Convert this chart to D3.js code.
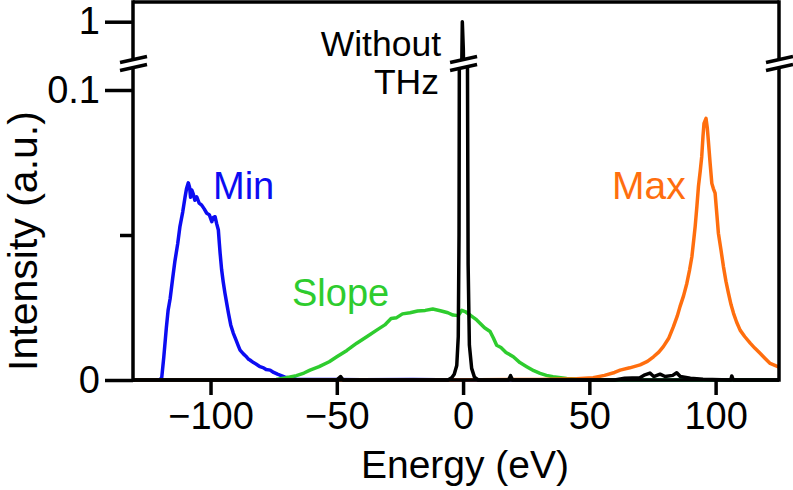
<!DOCTYPE html>
<html>
<head>
<meta charset="utf-8">
<script src="https://cdn.jsdelivr.net/npm/d3@7/dist/d3.min.js"></script>
<style>
  html, body { margin: 0; padding: 0; background: #fff; }
  svg text { font-family: "Liberation Sans", Arial, sans-serif; }
</style>
</head>
<body>
<svg id="chart" width="793" height="490"></svg>
<script>
// ---------- data (energy eV, intensity a.u.) ----------
const xTicks = [-100, -50, 0, 50, 100];
const yTicksLow = [0, 0.1];
const yMinorLow = [0.05];
const yTicksHigh = [1];

const minSeries = [
  [-130.7,0],[-125,0],[-120,0],[-119.3,0.001],[-118.5,0.008],[-117.5,0.018],[-116.8,0.024],[-116,0.028],
  [-115,0.035],[-114.1,0.041],[-113,0.047],[-112.1,0.053],[-111,0.058],[-110.1,0.063],[-109.5,0.066],
  [-108.8,0.068],[-108.3,0.0665],[-107.9,0.063],[-107.4,0.0655],[-106.8,0.064],[-106.2,0.062],
  [-105.5,0.0632],[-104.5,0.061],[-103.5,0.0603],[-102.5,0.059],[-101.5,0.0575],[-100.5,0.057],
  [-99.5,0.0546],[-99,0.056],[-98.2,0.0563],[-97.6,0.054],[-96.9,0.0517],[-96.5,0.047],[-96.2,0.0437],
  [-95.6,0.038],[-95,0.034],[-94.3,0.030],[-93.5,0.026],[-92.9,0.023],[-92,0.019],[-91,0.0162],
  [-90,0.014],[-89,0.0118],[-88.3,0.0103],[-87,0.009],[-86,0.0082],[-85,0.0072],[-84.4,0.0069],
  [-83,0.006],[-82,0.0055],[-80.4,0.0046],[-79,0.0042],[-78,0.0036],[-76.4,0.0034],[-75,0.0026],
  [-73.5,0.002],[-72.5,0.0017],[-70.5,0.001],[-68.5,0.0007],[-66,0.0003],[-60,0.0002],[-50,0.0002],
  [-40,0.0001],[-20,0.0002],[0,0],[125.1,0]
];
const slopeSeries = [
  [-130.7,0],[-80,0],[-74,0.0002],[-70,0.0008],[-66,0.0015],[-63,0.0024],[-60.6,0.0034],[-57,0.0046],
  [-53,0.0063],[-50,0.008],[-46,0.0102],[-42.1,0.0127],[-38,0.015],[-34.2,0.0172],[-31,0.019],
  [-28.5,0.0212],[-26.3,0.0215],[-24,0.0228],[-21,0.0232],[-18,0.0238],[-15,0.024],[-12,0.0245],
  [-9,0.0239],[-6,0.0232],[-4,0.0224],[-2,0.0222],[-0.5,0.024],[0.8,0.0236],[2.8,0.0224],[5.4,0.0207],
  [6.7,0.0196],[8.5,0.018],[10.7,0.0167],[12,0.0145],[13.3,0.012],[15,0.0112],[17,0.0095],[19.9,0.008],
  [22.5,0.006],[25.2,0.0046],[28,0.0032],[30.5,0.0023],[33,0.0016],[35.6,0.0011],[41,0.0005],
  [48,0.0002],[55,0],[125.1,0]
];
const maxSeries = [
  [-130.7,0],[-5,0],[30,0.0002],[45,0.0004],[51.5,0.0008],[56,0.0016],[60,0.0026],[62.2,0.0034],
  [66,0.0042],[70.1,0.0052],[73,0.0064],[75.4,0.008],[77.5,0.0096],[79.3,0.0115],[81.5,0.0145],
  [83.3,0.0184],[84.8,0.022],[85.9,0.0253],[87.3,0.029],[88.6,0.0333],[89.7,0.038],[90.6,0.0425],
  [91.3,0.048],[91.9,0.0529],[92.6,0.06],[93.2,0.0667],[93.9,0.072],[94.5,0.077],[95,0.084],
  [95.4,0.0885],[96.2,0.0902],[96.7,0.087],[97.1,0.0828],[97.8,0.075],[98.5,0.0678],[99.1,0.066],
  [99.8,0.0644],[100.5,0.057],[101.1,0.0506],[102.1,0.045],[103.1,0.0391],[104.1,0.034],[105.1,0.0299],
  [106.1,0.026],[107.1,0.023],[108.3,0.02],[109.7,0.0172],[111.5,0.015],[113.7,0.0127],[115.5,0.011],
  [117.6,0.0092],[119.5,0.0075],[121.6,0.0057],[123,0.0052],[125.1,0.0044]
];
const withoutSeries = [
  [-130.7,0],[-50,0],[-48.5,0.0012],[-47.5,0],[-6,0],[-4.5,0.0008],[-3.5,0.002],[-2.5,0.005],
  [-1.9,0.015],[-1.6,0.05],[-1.4,0.15],[-1.1,0.45],[-0.6,0.85],[-0.3,1.0],[0.1,0.93],[0.8,0.6],
  [1.4,0.3],[1.7,0.12],[2.0,0.04],[2.5,0.012],[3.4,0.004],[4.5,0.001],[6,0],[18,0],[18.8,0.0015],
  [19.6,0],[60,0],[64,0.0006],[70,0.0008],[72,0.0018],[74,0.0024],[75.5,0.0012],[78,0.002],[80,0.0012],
  [83,0.0016],[84.6,0.0025],[86,0.0012],[90,0.0006],[95,0.0003],[106,0],[106.4,0.0014],[107,0],[125.1,0]
];

// ---------- layout ----------
const svg = d3.select("#chart");
const plotL = 133, plotR = 779, plotT = 2, plotB = 380;
const breakLowTop = 66, breakHighBottom = 61;
const font = "'Liberation Sans', Arial, sans-serif";

const x = d3.scaleLinear().domain([-130.7, 125.1]).range([plotL, plotR]);
const yLow = d3.scaleLinear().domain([0, 0.1]).range([plotB, 90]);
const yHigh = d3.scaleLinear().domain([0.9, 1]).range([61, 21.7]);

const defs = svg.append("defs");
defs.append("clipPath").attr("id", "clipLow").append("rect")
  .attr("x", plotL).attr("y", breakLowTop).attr("width", plotR - plotL).attr("height", plotB - breakLowTop + 4);
defs.append("clipPath").attr("id", "clipHigh").append("rect")
  .attr("x", plotL).attr("y", plotT).attr("width", plotR - plotL).attr("height", breakHighBottom - plotT);

const lineLow = d3.line().x(d => x(d[0])).y(d => yLow(d[1]));
const lineHigh = d3.line().x(d => x(d[0])).y(d => yHigh(d[1]));

const series = [
  {data: minSeries, color: "#0c0cf2"},
  {data: slopeSeries, color: "#2ecc2e"},
  {data: maxSeries, color: "#ff6e0e"},
  {data: withoutSeries, color: "#000000"}
];

const gLow = svg.append("g").attr("clip-path", "url(#clipLow)");
const gHigh = svg.append("g").attr("clip-path", "url(#clipHigh)");
series.forEach(s => {
  gLow.append("path").attr("d", lineLow(s.data)).attr("fill", "none")
    .attr("stroke", s.color).attr("stroke-width", 3.5).attr("stroke-linejoin", "round");
  gHigh.append("path").attr("d", lineHigh(s.data)).attr("fill", "none")
    .attr("stroke", s.color).attr("stroke-width", 3.5).attr("stroke-linejoin", "round");
});

// ---------- frame ----------
const frame = svg.append("g").attr("stroke", "#000").attr("stroke-width", 3.5).attr("fill", "none");
frame.append("line").attr("x1", plotL).attr("x2", plotR).attr("y1", plotT).attr("y2", plotT);
frame.append("line").attr("x1", plotL).attr("x2", plotR).attr("y1", plotB).attr("y2", plotB);
[plotL, plotR].forEach(px => {
  frame.append("line").attr("x1", px).attr("x2", px).attr("y1", plotT - 1.7).attr("y2", plotB + 1.7);
});

// ---------- axes ----------
const xAxis = d3.axisBottom(x).tickValues(xTicks).tickSize(15).tickPadding(6)
  .tickFormat(d => String(d).replace("-", "\u2212"));
const gx = svg.append("g").attr("transform", `translate(0,${plotB})`).call(xAxis);
const yAxisLow = d3.axisLeft(yLow).tickValues(yTicksLow).tickSize(28).tickPadding(5)
  .tickFormat(d => d === 0 ? "0" : "0.1");
const gyl = svg.append("g").attr("transform", `translate(${plotL},0)`).call(yAxisLow);
const yAxisMinor = d3.axisLeft(yLow).tickValues(yMinorLow).tickSize(13).tickFormat("");
const gym = svg.append("g").attr("transform", `translate(${plotL},0)`).call(yAxisMinor);
const yAxisHigh = d3.axisLeft(yHigh).tickValues(yTicksHigh).tickSize(28).tickPadding(5)
  .tickFormat(d => "1");
const gyh = svg.append("g").attr("transform", `translate(${plotL},0)`).call(yAxisHigh);

[gx, gyl, gym, gyh].forEach(g => {
  g.select(".domain").remove();
  g.selectAll(".tick line").attr("stroke", "#000").attr("stroke-width", 3.5);
  g.selectAll(".tick text").attr("fill", "#000").style("font-size", "38px").style("font-family", font);
});
gx.selectAll(".tick text").attr("dy", "0.74em");

// ---------- axis breaks ----------
function breakMark(cx) {
  const g = svg.append("g");
  g.append("polygon")
    .attr("points", [[cx-14,63],[cx+15,57],[cx+15,65],[cx-14,71]].map(p => p.join(",")).join(" "))
    .attr("fill", "#fff");
  [59.5, 67.5].forEach(b => {
    g.append("line").attr("x1", cx - 13).attr("y1", b + 3).attr("x2", cx + 14).attr("y2", b - 3)
      .attr("stroke", "#000").attr("stroke-width", 3.5);
  });
}
breakMark(plotL);
breakMark(x(0));
breakMark(plotR);

// ---------- labels ----------
svg.append("text").attr("x", 465).attr("y", 478).attr("text-anchor", "middle")
  .style("font-size", "39px").style("font-family", font).text("Energy (eV)");
svg.append("text").attr("transform", "translate(37,241) rotate(-90)").attr("text-anchor", "middle")
  .style("font-size", "41px").style("font-family", font).text("Intensity (a.u.)");

svg.append("text").attr("x", 441).attr("y", 55.5).attr("text-anchor", "end")
  .style("font-size", "35.5px").style("font-family", font).text("Without");
svg.append("text").attr("x", 439).attr("y", 94).attr("text-anchor", "end")
  .style("font-size", "35.5px").style("font-family", font).text("THz");

svg.append("text").attr("x", 213).attr("y", 199).attr("fill", "#0c0cf2")
  .style("font-size", "38px").style("font-family", font).text("Min");
svg.append("text").attr("x", 292).attr("y", 306).attr("fill", "#2ecc2e")
  .style("font-size", "38px").style("font-family", font).text("Slope");
svg.append("text").attr("x", 612).attr("y", 199).attr("fill", "#ff6e0e")
  .style("font-size", "39px").style("font-family", font).text("Max");
</script>
</body>
</html>
